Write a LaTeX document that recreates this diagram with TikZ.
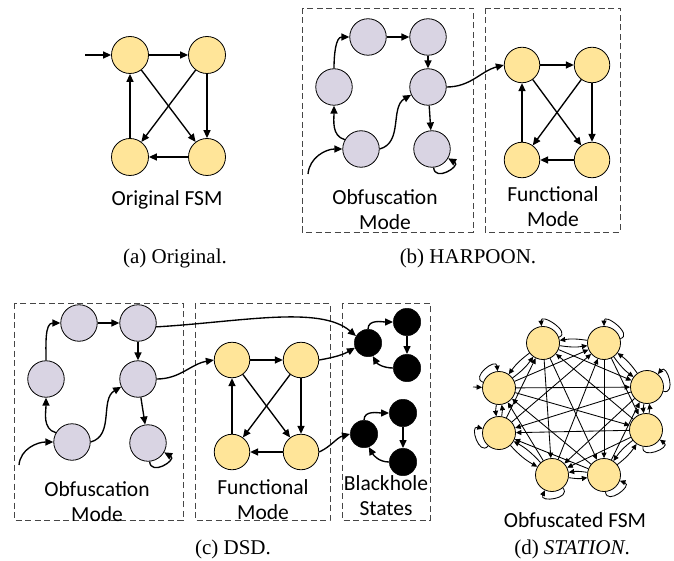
\documentclass[tikz,border=0pt]{standalone}
\usepackage{fontspec}
\setmainfont{Liberation Serif}
\newfontfamily\lab{Carlito}
\usetikzlibrary{arrows.meta}
\definecolor{ylw}{RGB}{255,229,153}
\definecolor{prp}{RGB}{217,212,227}
\definecolor{boxc}{RGB}{70,70,70}
\begin{document}
\begin{tikzpicture}[x=1pt,y=1pt,
  ys/.style={circle,draw=black,fill=ylw,minimum size=35.5pt,inner sep=0pt,line width=0.8pt},
  ya/.style={ys,minimum size=37pt},
  ps/.style={circle,draw=black,fill=prp,minimum size=36.5pt,inner sep=0pt,line width=0.8pt},
  ks/.style={circle,draw=black,fill=black,minimum size=27.5pt,inner sep=0pt},
  ds/.style={circle,draw=black,fill=ylw,minimum size=33pt,inner sep=0pt,line width=0.8pt},
  arr/.style={-{Triangle[length=8pt,width=7pt]},line width=1.35pt},
  darr/.style={-{Triangle[length=5.5pt,width=5pt]},line width=0.85pt},
  dbox/.style={draw=boxc,dash pattern=on 6pt off 3.5pt,line width=0.9pt},
  lbl/.style={font=\lab\fontsize{21.5}{25}\selectfont,align=center,inner sep=0pt},
  captxt/.style={font=\fontsize{21}{25}\selectfont,inner sep=0pt}
]
\useasboundingbox (0,0) rectangle (674,-561);

% ---------------- (a) ----------------
\node[ya] (a1) at (130,-55) {};
\node[ya] (a2) at (207,-55) {};
\node[ya] (a3) at (130,-157) {};
\node[ya] (a4) at (207,-157) {};
\coordinate (a0) at (85,-55);
\draw[arr] (a0) -- (a1);
\draw[arr] (a1) -- (a2);
\draw[arr] (a2) -- (a4);
\draw[arr] (a1) -- (a4);
\draw[arr] (a2) -- (a3);
\draw[arr] (a4) -- (a3);
\draw[arr] (a3) -- (a1);
\node[lbl] (la) at (167,-200) {Original FSM};
\node[captxt] (capa) at (175,-258) {(a) Original.};

% ---------------- (b) ----------------
\draw[dbox] (302,-8) rectangle (473,-232);
\draw[dbox] (485,-8) rectangle (620,-232);
\node[ps] (bL) at (334,-87) {};
\node[ps] (bT1) at (368,-37) {};
\node[ps] (bT2) at (428,-37) {};
\node[ps] (bM) at (428,-87) {};
\node[ps] (bB1) at (361,-149) {};
\node[ps] (bB2) at (432,-149) {};
\node[ys] (fTL) at (522,-65) {};
\node[ys] (fTR) at (592,-65) {};
\node[ys] (fBL) at (522,-160) {};
\node[ys] (fBR) at (592,-160) {};
\coordinate (b0) at (308,-174);
\draw[arr] (b0) to[out=85,in=180] (bB1.west);
\draw[arr] (bB1.150) to[out=165,in=-90] (bL.south);
\draw[arr] (bL.north) to[out=90,in=180] (bT1.west);
\draw[arr] (bT1) -- (bT2);
\draw[arr] (bT2) -- (bM);
\draw[arr] (bB1.east) to[out=15,in=210] (bM.205);
\draw[arr] (bM) -- (bB2);
\draw[arr] (bB2.-85) to[out=-85,in=-30,looseness=1,min distance=15pt] (bB2.-30);
\draw[arr] (bM.east) to[out=0,in=195] (fTL.west);
\draw[arr] (fTL) -- (fTR);
\draw[arr] (fTR) -- (fBR);
\draw[arr] (fTL) -- (fBR);
\draw[arr] (fTR) -- (fBL);
\draw[arr] (fBR) -- (fBL);
\draw[arr] (fBL) -- (fTL);
\node[lbl] (lb1) at (385,-209.5) {Obfuscation\\Mode};
\node[lbl] (lb2) at (553,-206.5) {Functional\\Mode};
\node[captxt] (capb) at (468,-258) {(b) HARPOON.};

% ---------------- (c) ----------------
\draw[dbox] (14,-303) rectangle (183,-520);
\draw[dbox] (195,-303) rectangle (330,-520);
\draw[dbox] (342,-303) rectangle (430,-520);
\node[ps] (cL) at (46,-379) {};
\node[ps] (cT1) at (79,-323) {};
\node[ps] (cT2) at (138,-323) {};
\node[ps] (cM) at (138,-379) {};
\node[ps] (cB1) at (72,-442) {};
\node[ps] (cB2) at (148,-443) {};
\node[ys] (gTL) at (232,-360) {};
\node[ys] (gTR) at (301,-360) {};
\node[ys] (gBL) at (232,-452) {};
\node[ys] (gBR) at (301,-452) {};
\node[ks] (k1) at (368,-343) {};
\node[ks] (k2) at (407,-322) {};
\node[ks] (k3) at (407,-368) {};
\node[ks] (k4) at (364,-434) {};
\node[ks] (k5) at (403,-413) {};
\node[ks] (k6) at (403,-462) {};
\coordinate (c0) at (19,-465);
\draw[arr] (c0) to[out=85,in=180] (cB1.west);
\draw[arr] (cB1.150) to[out=165,in=-90] (cL.south);
\draw[arr] (cL.north) to[out=90,in=180] (cT1.west);
\draw[arr] (cT1) -- (cT2);
\draw[arr] (cT2) -- (cM);
\draw[arr] (cB1.east) to[out=15,in=210] (cM.205);
\draw[arr] (cM) -- (cB2);
\draw[arr] (cB2.-85) to[out=-85,in=-30,looseness=1,min distance=15pt] (cB2.-30);
\draw[arr] (cM.east) to[out=0,in=190] (gTL.west);
\draw[arr] (cT2.-12) .. controls (240,-322) and (320,-305) .. (k1.150);
\draw[arr] (gTL) -- (gTR);
\draw[arr] (gTR) -- (gBR);
\draw[arr] (gTL) -- (gBR);
\draw[arr] (gTR) -- (gBL);
\draw[arr] (gBR) -- (gBL);
\draw[arr] (gBL) -- (gTL);
\draw[arr] (gTR.east) to[out=10,in=210] (k1.200);
\draw[arr] (gBR.east) to[out=25,in=195] (k4.west);
\draw[arr] (k1.north) to[out=90,in=180] (k2.west);
\draw[arr] (k2) -- (k3);
\draw[arr] (k3.west) to[out=180,in=-60] (k1.-70);
\draw[arr] (k4.north) to[out=90,in=180] (k5.west);
\draw[arr] (k5) -- (k6);
\draw[arr] (k6.west) to[out=180,in=-60] (k4.-70);
\node[lbl] (lc1) at (97,-501.5) {Obfuscation\\Mode};
\node[lbl] (lc2) at (263,-500) {Functional\\Mode};
\node[lbl] (lc3) at (386,-495.5) {Blackhole\\States};
\node[captxt] (capc) at (233,-549) {(c) DSD.};

% ---------------- (d) ----------------
\node[ds] (d1) at (543,-343) {};
\node[ds] (d2) at (604,-343) {};
\node[ds] (d3) at (647,-387) {};
\node[ds] (d4) at (646,-430) {};
\node[ds] (d5) at (604,-475) {};
\node[ds] (d6) at (552,-475) {};
\node[ds] (d7) at (499,-433) {};
\node[ds] (d8) at (499,-388) {};
\coordinate (d0) at (473,-387);
\draw[darr] (d0) -- (d8);
% ring, both directions
\foreach \a/\b in {d1/d2,d2/d3,d3/d4,d4/d5,d5/d6,d6/d7,d7/d8,d8/d1}{
  \draw[darr] (\a) to[bend right=9] (\b);
  \draw[darr] (\b) to[bend right=9] (\a);
}
% chords
\foreach \a/\b in {d1/d3,d4/d1,d1/d5,d1/d6,d7/d1,d2/d4,d2/d5,d6/d2,d7/d2,d8/d2,
                   d5/d3,d3/d6,d8/d3,d3/d7,d4/d6,d4/d7,d8/d4,d5/d7,d5/d8,d6/d8}{
  \draw[darr] (\a) -- (\b);
}
% self loops
\draw[darr] (d1.20) to[out=20,in=95,looseness=1,min distance=14pt] (d1.95);
\draw[darr] (d2.15) to[out=15,in=90,looseness=1,min distance=14pt] (d2.90);
\draw[darr] (d3.-15) to[out=-15,in=50,looseness=1,min distance=14pt] (d3.50);
\draw[darr] (d4.-100) to[out=-100,in=-35,looseness=1,min distance=14pt] (d4.-35);
\draw[darr] (d5.-85) to[out=-85,in=-20,looseness=1,min distance=14pt] (d5.-20);
\draw[darr] (d6.-50) to[out=-50,in=-115,looseness=1,min distance=14pt] (d6.-115);
\draw[darr] (d7.-130) to[out=-130,in=165,looseness=1,min distance=14pt] (d7.165);
\draw[darr] (d8.160) to[out=160,in=95,looseness=1,min distance=14pt] (d8.95);
\node[lbl] (ld) at (575,-520) {Obfuscated FSM};
\node[captxt] (capd) at (572,-549) {(d) \textit{STATION}.};
\end{tikzpicture}
\end{document}
